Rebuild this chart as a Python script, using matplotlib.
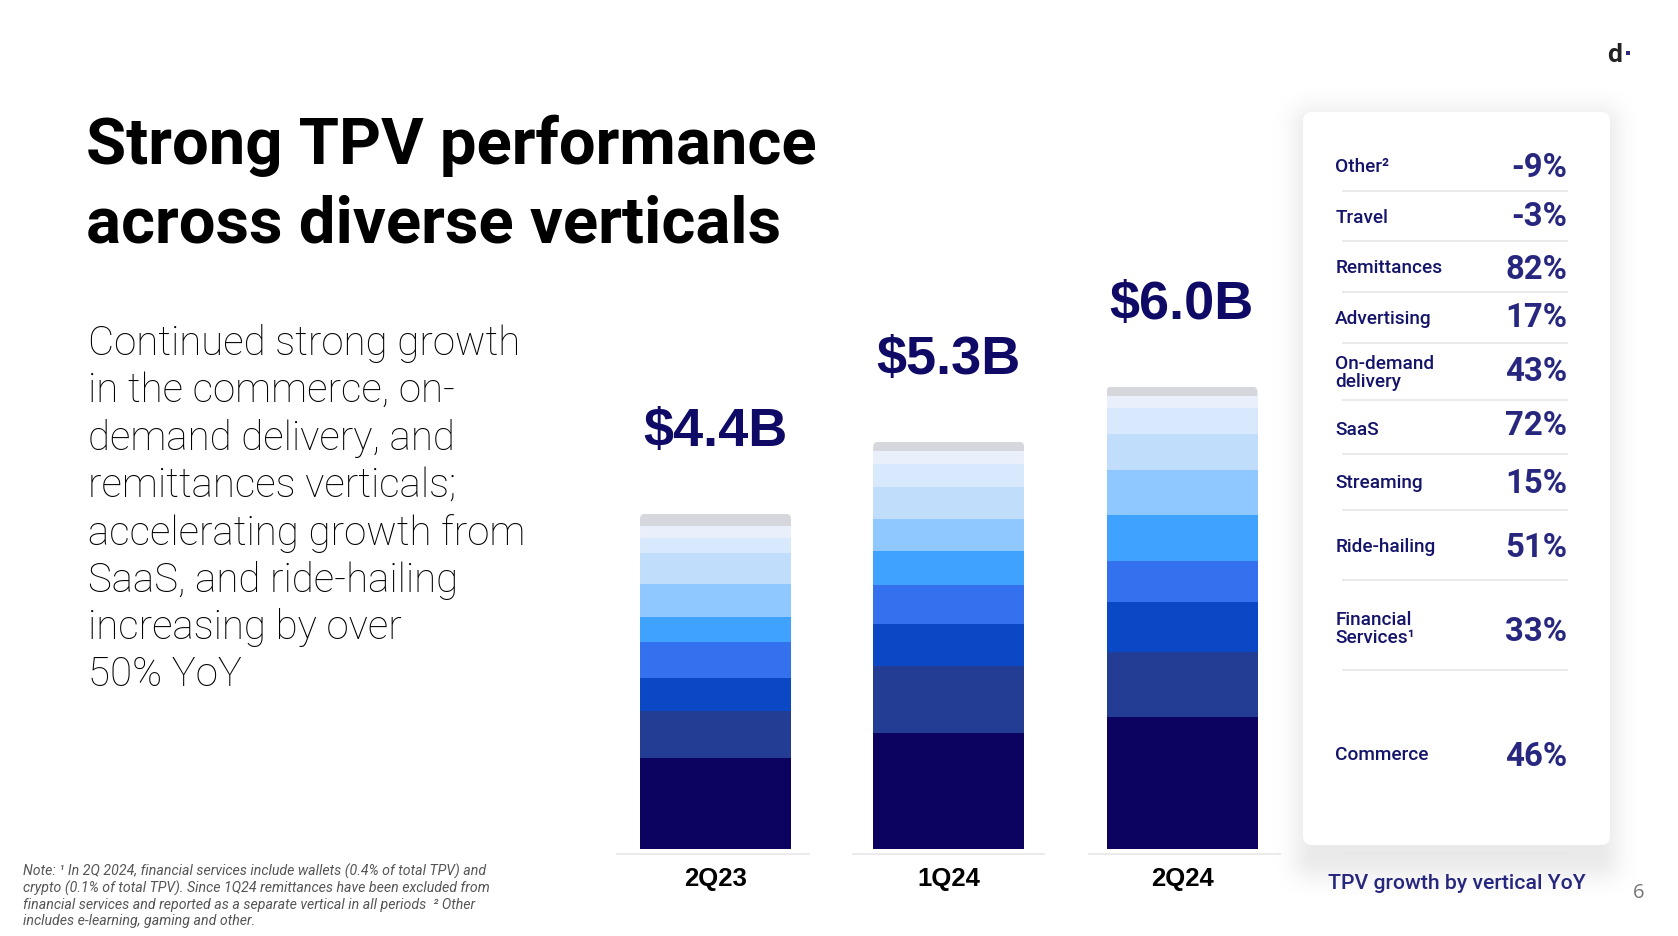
import matplotlib
matplotlib.use("Agg")
import matplotlib.pyplot as plt
from matplotlib.patches import FancyBboxPatch, Rectangle
import numpy as np

W, H = 1678, 937
plt.rcParams['font.family'] = ['Roboto', 'DejaVu Sans']

periods = ["2Q23", "1Q24", "2Q24"]
totals = ["$4.4B", "$5.3B", "$6.0B"]
series_names = ["Commerce", "Financial Services", "Ride-hailing", "Streaming", "SaaS",
                "On-demand delivery", "Advertising", "Remittances", "Travel", "Other"]
commerce = [1.18, 1.51, 1.72]
financial = [0.62, 0.87, 0.85]
ridehailing = [0.43, 0.55, 0.65]
streaming = [0.47, 0.51, 0.54]
saas = [0.33, 0.44, 0.59]
ondemand = [0.43, 0.43, 0.59]
advertising = [0.40, 0.41, 0.47]
remittances = [0.19, 0.30, 0.34]
travel = [0.16, 0.17, 0.16]
other = [0.16, 0.12, 0.12]
series = [commerce, financial, ridehailing, streaming, saas, ondemand, advertising, remittances, travel, other]
colors = ["#0c0360", "#233d95", "#0a48c6", "#3371ee", "#3fa2ff", "#8fc7ff", "#c0defc", "#d8e9fd", "#e9f0fc", "#d5d7dc"]

row_labels = ["Other²", "Travel", "Remittances", "Advertising", "On-demand\ndelivery", "SaaS",
              "Streaming", "Ride-hailing", "Financial\nServices¹", "Commerce"]
row_growth = ["-9%", "-3%", "82%", "17%", "43%", "72%", "15%", "51%", "33%", "46%"]

title = "Strong TPV performance\nacross diverse verticals"
body_lines = ["Continued strong growth", "in the commerce, on-", "demand delivery, and", "remittances verticals;",
              "accelerating growth from", "SaaS, and ride-hailing", "increasing by over", "50% YoY"]
note_lines = ["Note: ¹ In 2Q 2024, financial services include wallets (0.4% of total TPV) and",
              "crypto (0.1% of total TPV). Since 1Q24 remittances have been excluded from",
              "financial services and reported as a separate vertical in all periods  ² Other",
              "includes e-learning, gaming and other."]

fig = plt.figure(figsize=(W / 100, H / 100), dpi=100, facecolor="white")
bg = fig.add_axes([0, 0, 1, 1], zorder=0)

# panel shadow and card
px0, px1, py0, py1 = 1303, 1610, 113, 846
gx, gy = np.meshgrid(np.arange(W) + 0.5, np.arange(H) + 0.5)
sx0, sx1, sy0, sy1 = px0 + 12, px1 - 12, py0 + 16, py1 + 12
dx = np.maximum(np.maximum(sx0 - gx, gx - sx1), 0)
dy = np.maximum(np.maximum(sy0 - gy, gy - sy1), 0)
dist = np.hypot(dx, dy)
shade = np.zeros((H, W, 4))
shade[..., 3] = 0.085 * np.exp(-(dist / 24.0) ** 2)
bg.imshow(shade, extent=(0, W, H, 0), aspect="auto", interpolation="nearest", zorder=0)
bg.set_xlim(0, W); bg.set_ylim(H, 0); bg.axis("off")
bg.add_patch(FancyBboxPatch((px0, py0), px1 - px0, py1 - py0, boxstyle="round,pad=0,rounding_size=9",
                            fc="white", ec="none", zorder=1))

# bar chart
bot_px = 849.7
top_px = bot_px - 6.8 * 76.6
left_px, right_px = 615, 1282
ax = fig.add_axes([left_px / W, 1 - bot_px / H, (right_px - left_px) / W, (bot_px - top_px) / H], zorder=2)
ax.patch.set_alpha(0)
x = np.arange(len(periods))
bottom = np.zeros(len(periods))
bw = 151 / 233.25
for vals, c, name in zip(series, colors, series_names):
    bars = ax.bar(x, vals, bw, bottom=bottom, color=c, label=name, linewidth=0)
    bottom = bottom + np.array(vals)
for xi, b, r in zip(x, bottom, bars):
    clip = FancyBboxPatch((xi - bw / 2, 0), bw, b, boxstyle=f"round,pad=0,rounding_size={5 / 233.25}",
                          mutation_aspect=233.25 / 76.6, transform=ax.transData, fc="none", ec="none")
    ax.add_patch(clip)
    r.set_clip_path(clip)
ax.set_xlim(-100.5 / 233.25, 566.5 / 233.25)
ax.set_ylim(0, 6.8)
for s in ax.spines.values():
    s.set_visible(False)
ax.set_yticks([])
ax.set_xticks(x, periods, family="Liberation Sans", fontweight="bold", fontsize=18.5, color="black")
ax.tick_params(axis="x", length=0, pad=12.5)
for xi, b, t in zip(x, bottom, totals):
    ax.annotate(t, (xi, b), xytext=(0, 59.5), textcoords="offset points", ha="center", va="center",
                family="Liberation Sans", fontweight="bold", fontsize=39, color="#0f0a66", annotation_clip=False)
for x0, x1 in [(616, 810), (852, 1045), (1087.5, 1281)]:
    bg.plot([x0, x1], [854.5, 854.5], color="#e6e6e6", lw=1.1, solid_capstyle="butt", zorder=2)

# title and body
for txt, y in zip(title.split("\n"), [146, 225]):
    bg.text(86, y, txt, fontsize=47, fontweight="bold", color="black", va="center", ha="left")
for txt, y in zip(body_lines, np.array([318, 362.3, 406.6, 451, 495.3, 539.6, 584, 628]) * 1.0702 + 3):
    bg.text(88, y, txt, fontsize=29, fontweight="light", color="#000000", va="center", ha="left")

# rows
label_y = np.array([165, 216, 266, 317, 371, 428, 480.7, 544.7, 627, 753]) + 2
value_y = np.array([165.7, 215.5, 268, 316.5, 370, 424.5, 482.2, 546.5, 630, 755.5]) + 2
for txt, ly, val, vy in zip(row_labels, label_y, row_growth, value_y):
    bg.text(1335.2, ly, txt, fontsize=13.7, fontweight="medium", color="#14146a", va="center", ha="left", linespacing=0.98)
    bg.text(1567.2, vy, val, fontsize=23.7, fontweight="bold", color="#27277f", va="center", ha="right")
for y in np.array([190.7, 241, 292, 343, 399.7, 454, 510, 580, 670, 852.7]) + 1:
    bg.plot([1342, 1568], [y, y], color="#e6e6e6", lw=1.2, solid_capstyle="butt", zorder=2)
bg.text(1456.5, 883.7, "TPV growth by vertical YoY", fontsize=15.3, fontweight="medium", color="#27277f", va="center", ha="center")
bg.text(1639, 893, "6", fontsize=14.5, color="#777777", family="Open Sans", va="center", ha="center")

# note
for txt, y in zip(note_lines, [871, 888, 904.7, 921]):
    bg.text(23, y, txt, fontsize=10.14, style="italic", color="#555555", va="center", ha="left")

# logo
bg.text(1615, 62, "d", fontsize=19, fontweight="bold", color="#222222", va="baseline", ha="center")
bg.add_patch(Rectangle((1626, 52), 4, 4, fc="#2b2a7f", ec="none"))

fig.savefig("out.png", dpi=100)
